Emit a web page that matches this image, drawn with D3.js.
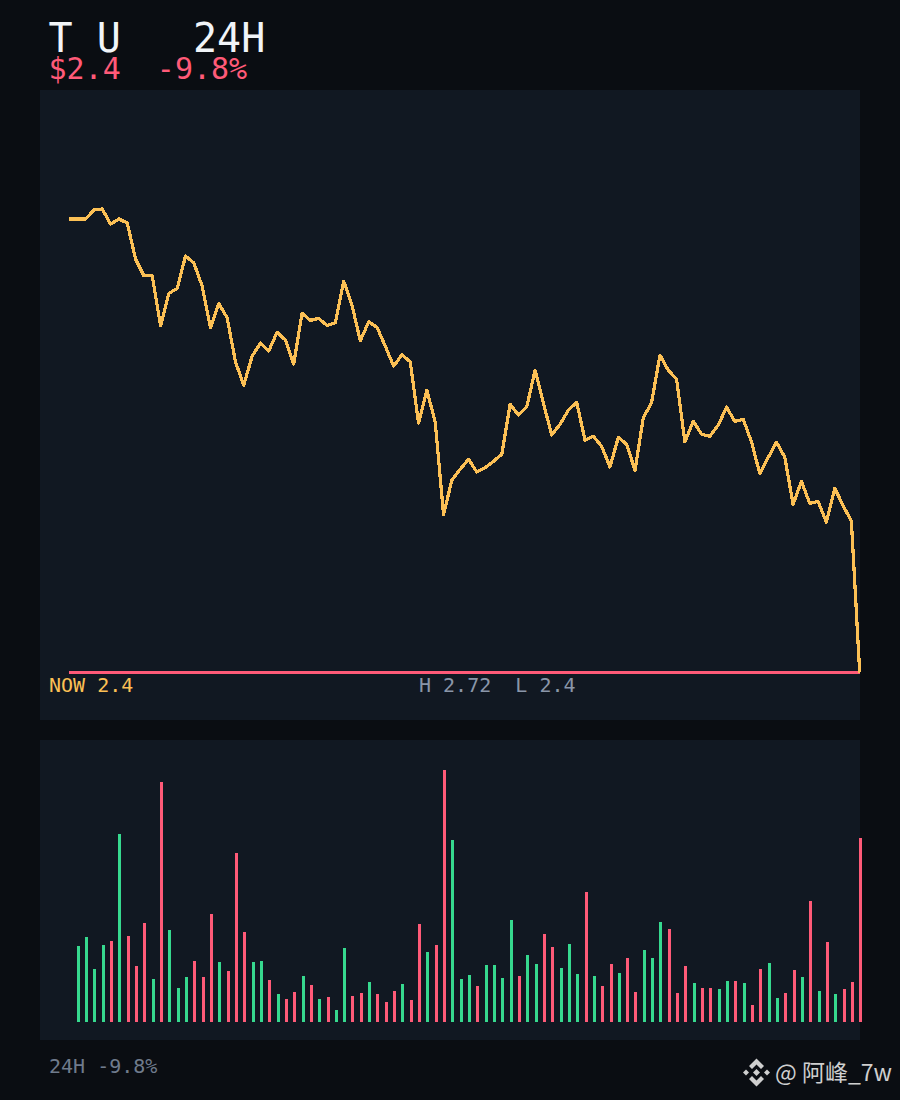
<!DOCTYPE html>
<html>
<head>
<meta charset="utf-8">
<title>T U 24H</title>
<script src="https://cdn.jsdelivr.net/npm/d3@7"></script>
<style>
	html, body { margin: 0; padding: 0; background: #0a0d12; }
	svg { display: block; }
	text { font-family: "DejaVu Sans Mono", monospace; white-space: pre; }
</style>
</head>
<body>
<script>
// price per 24h step
const prices = [
	2.7131, 2.7131, 2.7131, 2.7193, 2.72, 2.7096, 2.7131, 2.7103, 2.6854, 2.6739,
	2.6739, 2.6393, 2.6617, 2.6652, 2.6875, 2.6827, 2.6668, 2.638, 2.6548, 2.6449,
	2.6145, 2.5984, 2.6184, 2.6274, 2.6219, 2.635, 2.6295, 2.6129, 2.6481, 2.6431,
	2.6445, 2.6396, 2.6414, 2.6702, 2.6536, 2.629, 2.6421, 2.6384, 2.6253, 2.6115,
	2.6193, 2.6145, 2.5721, 2.5949, 2.5728, 2.5092, 2.5327, 2.5403, 2.5472, 2.5384,
	2.5415, 2.5458, 2.5507, 2.5852, 2.5778, 2.5834, 2.6087, 2.5857, 2.564, 2.5714,
	2.5811, 2.5866, 2.5603, 2.5631, 2.5562, 2.5419, 2.5624, 2.5576, 2.5396, 2.5758,
	2.5864, 2.6191, 2.6087, 2.6025, 2.5592, 2.5735, 2.5645, 2.5631, 2.5707, 2.5832,
	2.5733, 2.5749, 2.5592, 2.5373, 2.5484, 2.559, 2.5486, 2.5161, 2.532, 2.5168,
	2.5182, 2.5037, 2.5272, 2.5154, 2.5044, 2.4
];

// volume per step (arbitrary units), starts at the second price
const volumes = [
	76, 85, 53, 77, 81, 188, 86, 56, 99, 43,
	240, 92, 34, 45, 61, 45, 108, 60, 51, 169,
	90, 60, 61, 42, 28, 23, 30, 46, 37, 23,
	25, 12, 74, 26, 29, 40, 28, 20, 31, 38,
	22, 98, 70, 77, 252, 182, 43, 47, 36, 57,
	57, 44, 102, 46, 67, 58, 88, 75, 54, 78,
	48, 130, 46, 36, 58, 49, 64, 30, 72, 64,
	100, 93, 29, 56, 39, 34, 34, 33, 41, 41,
	39, 17, 53, 59, 24, 29, 52, 45, 121, 31,
	80, 28, 33, 40, 184
];

const titleText = "T U   24H";
const priceText = "$2.4  -9.8%";
const nowText = "NOW 2.4";
const rangeText = "H 2.72  L 2.4";
const footerText = "24H -9.8%";
const markText = "@ 阿峰_7w";

const UP = "#36d98f";
const DOWN = "#ff5a78";
const GOLD = "#fcc055";
const PANEL = "#111822";

const svg = d3.select("body").append("svg")
	.attr("width", 900)
	.attr("height", 1100);

// two panels
svg.append("rect").attr("x", 40).attr("y", 90).attr("width", 820).attr("height", 630).attr("fill", PANEL);
svg.append("rect").attr("x", 40).attr("y", 740).attr("width", 820).attr("height", 300).attr("fill", PANEL);

const x = d3.scaleLinear().domain([0, prices.length - 1]).range([69, 859.7]);
const y = d3.scaleLinear().domain([d3.min(prices), d3.max(prices)]).range([672.5, 209]);
const v = d3.scaleLinear().domain([0, d3.max(volumes)]).range([1022, 770]);

// low line, the price ends on it
svg.append("line")
	.attr("x1", x(0)).attr("x2", x(prices.length - 1))
	.attr("y1", y(d3.min(prices))).attr("y2", y(d3.min(prices)))
	.attr("stroke", DOWN).attr("stroke-width", 3)
	.attr("shape-rendering", "crispEdges");

const priceLine = d3.line().x((d, i) => x(i)).y(d => y(d));

svg.append("path")
	.datum(prices)
	.attr("d", priceLine)
	.attr("fill", "none")
	.attr("stroke", GOLD)
	.attr("stroke-width", 3.2)
	.attr("stroke-linejoin", "round")
	.attr("shape-rendering", "crispEdges");

// volume bars, colour follows the price move of that step
svg.append("g").selectAll("rect")
	.data(volumes)
	.join("rect")
	.attr("x", (d, i) => Math.floor(x(i + 1)))
	.attr("y", d => v(d))
	.attr("width", 3)
	.attr("height", d => v(0) - v(d))
	.attr("fill", (d, i) => prices[i + 1] >= prices[i] ? UP : DOWN)
	.attr("shape-rendering", "crispEdges");

function label(txt, px, py, size, color) {
	return svg.append("text")
		.attr("x", px).attr("y", py)
		.attr("font-size", size)
		.attr("fill", color)
		.text(txt);
}

label(titleText, 48.5, 52, 40, "#f1f4f8");
label(priceText, 48.5, 79, 30, DOWN);
label(nowText, 49, 692, 20, GOLD);
label(rangeText, 419, 692, 20, "#8a96a8");
label(footerText, 49, 1073, 20, "#6f7b8c");

// watermark
const logo = svg.append("g").attr("transform", "translate(756.5,1072.5)").attr("fill", "#cfcfcf");
logo.append("path").attr("d", "M0,-14L7.5,-6.5L4.5,-3.5L0,-8L-4.5,-3.5L-7.5,-6.5Z");
logo.append("path").attr("d", "M0,14L7.5,6.5L4.5,3.5L0,8L-4.5,3.5L-7.5,6.5Z");
logo.append("path").attr("d", "M0,-3.5L3.5,0L0,3.5L-3.5,0Z");
logo.append("path").attr("d", "M-10.5,-3L-7.5,0L-10.5,3L-13.5,0Z");
logo.append("path").attr("d", "M10.5,-3L13.5,0L10.5,3L7.5,0Z");

svg.append("text")
	.attr("x", 775).attr("y", 1081)
	.attr("font-size", 23)
	.attr("fill", "#cfcfcf")
	.style("font-family", '"Noto Sans CJK SC", sans-serif')
	.text(markText);
</script>
</body>
</html>
